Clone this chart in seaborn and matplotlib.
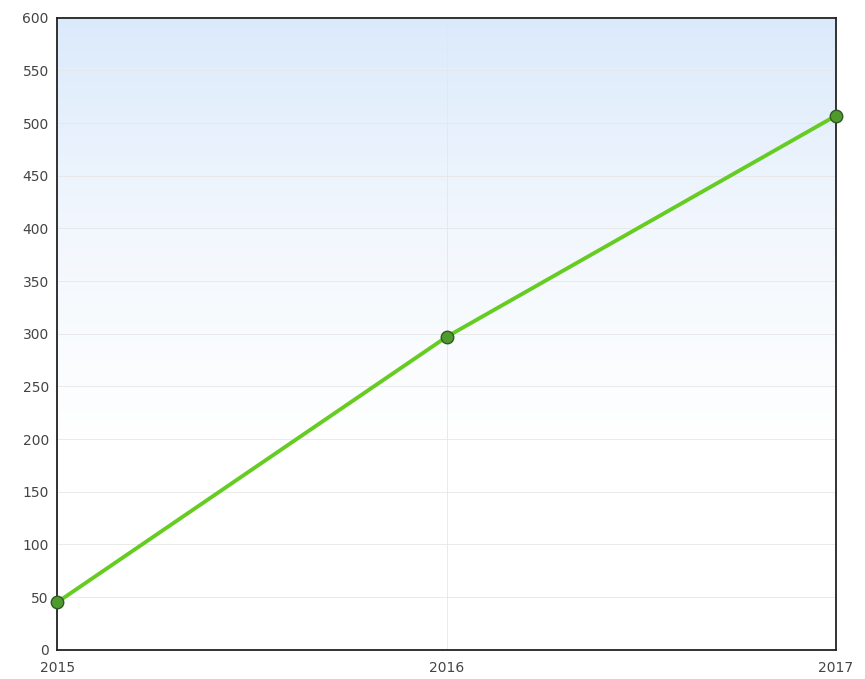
import numpy as np
import pandas as pd
import matplotlib
matplotlib.use("Agg")
import matplotlib.pyplot as plt
import seaborn as sns
from matplotlib.colors import LinearSegmentedColormap

years = [2015, 2016, 2017]
values = [45, 297, 507]
y_ticks = list(range(0, 601, 50))

df = pd.DataFrame({"year": years, "value": values})

sns.set_style("white")
plt.rcParams['font.family'] = ['DejaVu Sans']

fig = plt.figure(figsize=(8.65, 6.79), dpi=100)
ax = fig.add_axes([0.066, 0.043, 0.9005, 0.931])

# soft bluish background fading towards white
cmap = LinearSegmentedColormap.from_list("bg", ["#ffffff", "#ffffff", "#f2f7fd", "#dbeafb"])
grad = np.linspace(0, 1, 256).reshape(-1, 1)
ax.imshow(grad, aspect="auto", cmap=cmap, origin="lower",
          extent=[2015, 2017, 0, 600], zorder=0)

sns.lineplot(data=df, x="year", y="value", ax=ax, color="#66cc22", linewidth=2.8,
             marker="o", markersize=9, markerfacecolor="#4e9a2c",
             markeredgecolor="#2f5a22", markeredgewidth=1.0, zorder=3, clip_on=False)

ax.set_xlim(2015, 2017)
ax.set_ylim(0, 600)
ax.set_yticks(y_ticks)
ax.set_yticklabels([str(t) for t in y_ticks], color="#444444", fontsize=10)
ax.set_xticks(years)
ax.set_xticklabels([str(y) for y in years], color="#444444", fontsize=10)
ax.tick_params(axis="y", length=0, pad=6)
ax.tick_params(axis="x", length=0, pad=8)
ax.set_xlabel("")
ax.set_ylabel("")
ax.grid(True, color="#e6e6e6", linewidth=0.6)
ax.set_axisbelow(True)
for s in ax.spines.values():
    s.set_color("#222222")
    s.set_linewidth(1.3)

fig.savefig("out.png", dpi=100)
